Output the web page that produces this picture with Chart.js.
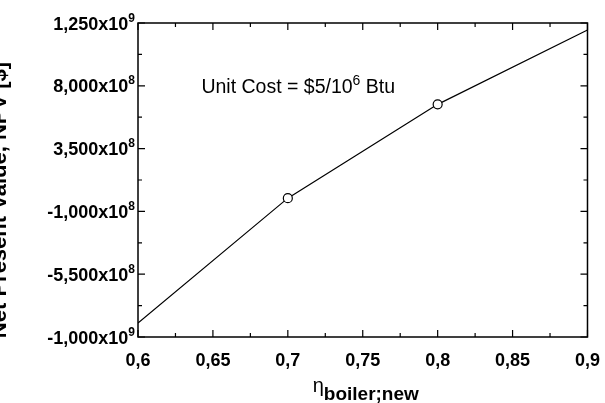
<!DOCTYPE html>
<html><head><meta charset="utf-8">
<script src="https://cdn.jsdelivr.net/npm/chart.js@4"></script>
<style>html,body{margin:0;padding:0;background:#fff}#wrap{width:605px;height:403px;position:relative}</style>
</head><body><div id="wrap"><canvas id="c"></canvas></div>
<script>
// ---- data ----
const efficiency = [0.6, 0.7, 0.8, 0.9];
const savings = [-0.9e9, -0.005e9, 0.667e9, 1.2e9];
const markerShown = [false, true, true, false];
const xTickValues = [0.6, 0.65, 0.7, 0.75, 0.8, 0.85, 0.9];
const xTickLabels = ['0,6', '0,65', '0,7', '0,75', '0,8', '0,85', '0,9'];
const yTickValues = [-1e9, -5.5e8, -1e8, 3.5e8, 8e8, 1.25e9];
const yTickMantissas = ['-1,000', '-5,500', '-1,000', '3,500', '8,000', '1,250'];
const yTickExponents = ['9', '8', '8', '8', '8', '9'];
const annotationAnchor = [0.6423, 0.748e9];
const annotationParts = ['Unit Cost = $5/10', '6', ' Btu'];
const xTitleParts = ['\u03B7', 'boiler;new'];
const yTitle = 'Net Present Value, NPV [$]';

const FONT = 'Arial, "Liberation Sans", sans-serif';

const decor = {
  id: 'decor',
  afterDraw(chart) {
    const ctx = chart.ctx, a = chart.chartArea;
    const xs = chart.scales.x, ys = chart.scales.y;
    ctx.save();
    ctx.strokeStyle = '#000';
    ctx.lineWidth = 1.5;
    ctx.strokeRect(a.left, a.top, a.right - a.left, a.bottom - a.top);
    ctx.lineWidth = 1.2;
    ctx.beginPath();
    for (let i = 0; i < xTickValues.length; i++) {
      const px = xs.getPixelForValue(xTickValues[i]);
      ctx.moveTo(px, a.bottom); ctx.lineTo(px, a.bottom - 7);
      ctx.moveTo(px, a.top); ctx.lineTo(px, a.top + 7);
      if (i < xTickValues.length - 1) {
        const mx = xs.getPixelForValue((xTickValues[i] + xTickValues[i + 1]) / 2);
        ctx.moveTo(mx, a.bottom); ctx.lineTo(mx, a.bottom - 4);
        ctx.moveTo(mx, a.top); ctx.lineTo(mx, a.top + 4);
      }
    }
    for (let i = 0; i < yTickValues.length; i++) {
      const py = ys.getPixelForValue(yTickValues[i]);
      ctx.moveTo(a.left, py); ctx.lineTo(a.left + 7, py);
      ctx.moveTo(a.right, py); ctx.lineTo(a.right - 7, py);
      if (i < yTickValues.length - 1) {
        const my = ys.getPixelForValue((yTickValues[i] + yTickValues[i + 1]) / 2);
        ctx.moveTo(a.left, my); ctx.lineTo(a.left + 4, my);
        ctx.moveTo(a.right, my); ctx.lineTo(a.right - 4, my);
      }
    }
    ctx.stroke();

    // y tick labels with superscript exponent
    ctx.fillStyle = '#000';
    ctx.textBaseline = 'alphabetic';
    ctx.textAlign = 'left';
    for (let i = 0; i < yTickValues.length; i++) {
      const py = ys.getPixelForValue(yTickValues[i]);
      const main = yTickMantissas[i] + 'x10';
      ctx.font = 'bold 18px ' + FONT;
      const w1 = ctx.measureText(main).width;
      ctx.font = 'bold 12px ' + FONT;
      const w2 = ctx.measureText(yTickExponents[i]).width;
      const right = a.left - 3;
      const x0 = right - w1 - w2;
      ctx.font = 'bold 18px ' + FONT;
      ctx.fillText(main, x0, py + 6.5);
      ctx.font = 'bold 12px ' + FONT;
      ctx.fillText(yTickExponents[i], x0 + w1, py - 1.5);
    }

    // annotation
    const ax = xs.getPixelForValue(annotationAnchor[0]);
    const ay = ys.getPixelForValue(annotationAnchor[1]);
    ctx.font = '19.5px ' + FONT;
    ctx.fillText(annotationParts[0], ax, ay);
    let w = ctx.measureText(annotationParts[0]).width;
    ctx.font = '14px ' + FONT;
    ctx.fillText(annotationParts[1], ax + w, ay - 8);
    w += ctx.measureText(annotationParts[1]).width;
    ctx.font = '19.5px ' + FONT;
    ctx.fillText(annotationParts[2], ax + w, ay);

    // x title
    ctx.font = '20px ' + FONT;
    const we = ctx.measureText(xTitleParts[0]).width;
    ctx.font = 'bold 19px ' + FONT;
    const wb = ctx.measureText(xTitleParts[1]).width;
    const cx = (a.left + a.right) / 2 + 3;
    const tx = cx - (we + wb) / 2;
    ctx.font = '20px ' + FONT;
    ctx.fillText(xTitleParts[0], tx, 392);
    ctx.font = 'bold 19px ' + FONT;
    ctx.fillText(xTitleParts[1], tx + we, 400);

    // y title (mostly outside the canvas, as in the reference)
    ctx.save();
    ctx.translate(6, (a.top + a.bottom) / 2 + 20);
    ctx.rotate(-Math.PI / 2);
    ctx.textAlign = 'center';
    ctx.font = 'bold 22px ' + FONT;
    ctx.fillText(yTitle, 0, 0);
    ctx.restore();
    ctx.restore();
  }
};

new Chart(document.getElementById('c'), {
  type: 'line',
  data: {
    datasets: [{
      data: efficiency.map((x, i) => ({ x: x, y: savings[i] })),
      borderColor: '#000',
      borderWidth: 1.2,
      tension: 0,
      pointRadius: markerShown.map(m => m ? 4.5 : 0),
      pointBackgroundColor: '#fff',
      pointBorderColor: '#000',
      pointBorderWidth: 1.2,
      fill: false
    }]
  },
  options: {
    responsive: true,
    maintainAspectRatio: false,
    animation: false,
    layout: { padding: { top: 23, right: 13, left: 0, bottom: 0 } },
    plugins: { legend: { display: false }, tooltip: { enabled: false } },
    scales: {
      x: {
        type: 'linear', min: 0.6, max: 0.9,
        afterBuildTicks: s => { s.ticks = xTickValues.map(v => ({ value: v })); },
        afterFit: s => { s.height = 66; },
        grid: { display: false }, border: { display: false },
        ticks: {
          color: '#000', font: { family: FONT, size: 18, weight: 'bold' }, padding: 5,
          maxRotation: 0, autoSkip: false,
          callback: (v, i) => xTickLabels[i]
        }
      },
      y: {
        type: 'linear', min: -1e9, max: 1.25e9,
        afterBuildTicks: s => { s.ticks = yTickValues.map(v => ({ value: v })); },
        afterFit: s => { s.width = 138; },
        grid: { display: false }, border: { display: false },
        ticks: { display: false }
      }
    }
  },
  plugins: [decor]
});
</script>
</body></html>
